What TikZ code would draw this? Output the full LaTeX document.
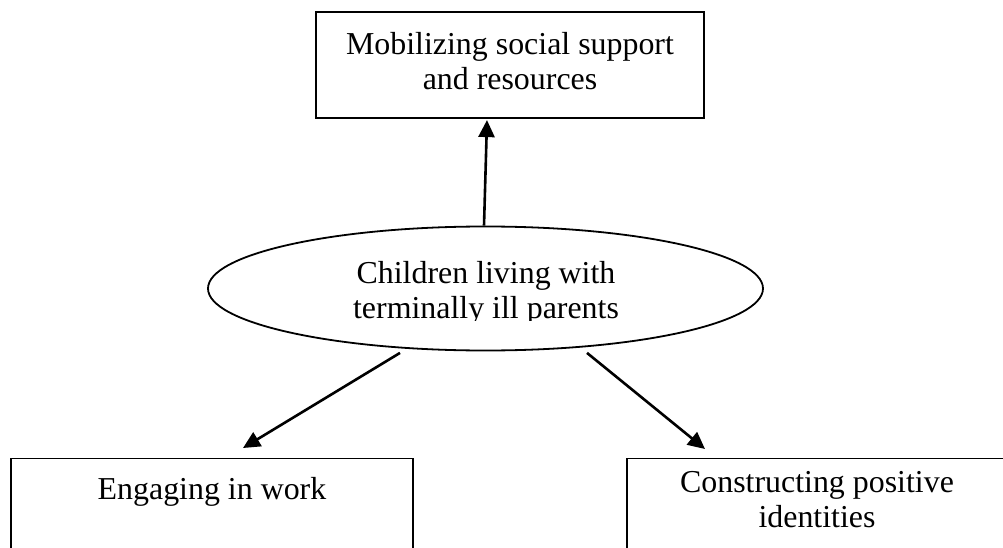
\documentclass[tikz,border=0pt]{standalone}
\usepackage{fontspec}
\setmainfont{Liberation Serif}
\usetikzlibrary{shapes.geometric,arrows.meta}
\begin{document}
\begin{tikzpicture}[x=1pt,y=-1pt,
  boxstyle/.style={draw, line width=1.2pt, rectangle, inner sep=0pt},
  txt/.style={font=\fontsize{31.9}{35}\selectfont, align=center, inner sep=0pt},
  arr/.style={line width=2.6pt, -{Triangle[length=17pt,width=16pt]}}
  ]
\useasboundingbox (0,0) rectangle (1003,548);
% top box
\node[boxstyle, minimum width=388pt, minimum height=106pt] (top) at (510,65) {};
\node[txt] (topText) at (510,61) {Mobilizing social support\\and resources};
% ellipse
\node[draw, ellipse, line width=1.8pt, minimum width=555pt, minimum height=124pt, inner sep=0pt] (ell) at (485.5,288.5) {};
\begin{scope}
  \clip (0,0) rectangle (1003,320.5);
  \node[txt] (ellText) at (486,293) {Children living with\\terminally ill parents};
\end{scope}
% bottom boxes
\node[boxstyle, minimum width=402pt, minimum height=140pt, anchor=north] (boxL) at (212,458) {};
\node[txt] (leftText) at (212,491.5) {Engaging in work};
\node[boxstyle, minimum width=380pt, minimum height=140pt, anchor=north] (boxR) at (817,458) {};
\node[txt] (rightText) at (817,500) {Constructing positive\\identities};
% arrows
\draw[arr] ([xshift=-1.5pt]ell.north) -- ([xshift=-23pt,yshift=-1.5pt]top.south);
\draw[arr] ([xshift=-85.5pt,yshift=-1.5pt]ell.south) -- ([xshift=31pt,yshift=10pt]boxL.north);
\draw[arr] ([xshift=101.5pt,yshift=-1.5pt]ell.south) -- ([xshift=-112pt,yshift=9pt]boxR.north);
\end{tikzpicture}
\end{document}
